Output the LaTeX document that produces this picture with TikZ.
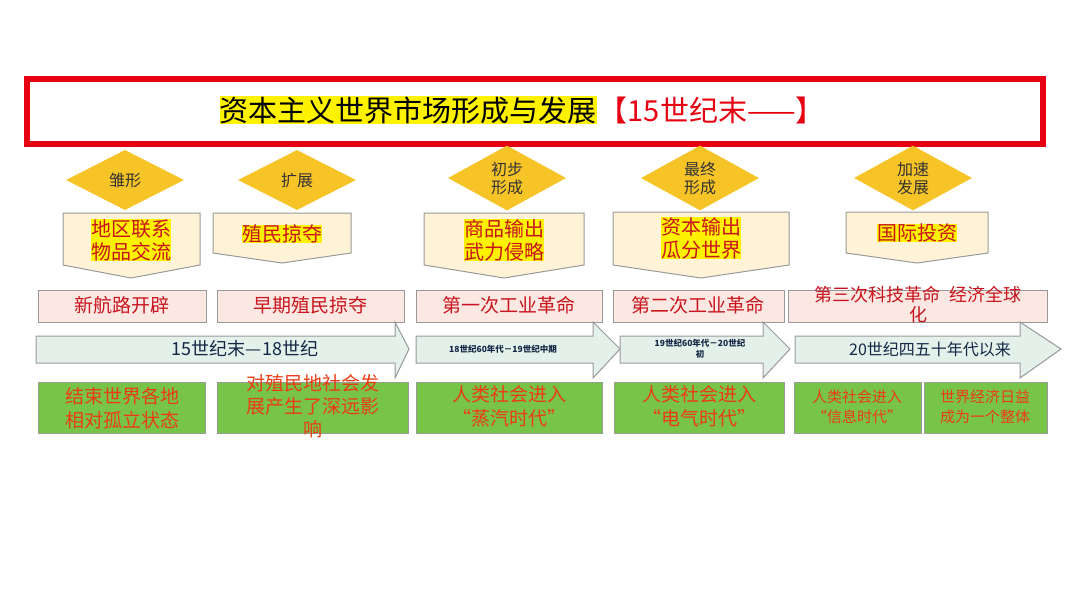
\documentclass[tikz,border=0pt]{standalone}
\usepackage{fontspec}
\setmainfont{Noto Sans CJK SC}
\usetikzlibrary{shapes.geometric, positioning}
\definecolor{titlered}{RGB}{230,0,18}
\definecolor{gold}{RGB}{247,196,40}
\definecolor{cream}{RGB}{255,243,215}
\definecolor{pinkfill}{RGB}{252,232,226}
\definecolor{arrowfill}{RGB}{228,240,234}
\definecolor{greenfill}{RGB}{120,196,72}
\definecolor{textred}{RGB}{200,20,30}
\definecolor{orangered}{RGB}{235,60,20}
\definecolor{navy}{RGB}{20,40,70}
\tikzset{
  diam/.style={diamond, fill=gold, minimum width=118pt, minimum height=60pt, inner sep=0pt, font=\fontsize{16}{18}\selectfont, align=center, text=black!80},
  hl/.style={fill=yellow, inner sep=0pt, text=textred, font=\fontsize{20}{23}\selectfont, align=center},
  pentline/.style={draw=gray!80, fill=cream, line width=1pt},
  pinkbox/.style={draw=gray!80, fill=pinkfill, line width=1pt},
  greenbox/.style={draw=gray!80, fill=greenfill, line width=1pt},
  arrowbody/.style={draw=gray!80, fill=arrowfill, line width=1pt},
  rowtext/.style={text=textred, font=\fontsize{19}{21}\selectfont, align=center},
  greentext/.style={text=orangered, font=\fontsize{19}{24}\selectfont, align=center},
  timetext/.style={text=navy, font=\fontsize{18}{20}\selectfont, align=center}
}
\begin{document}
\begin{tikzpicture}[x=1pt,y=-1pt]
\useasboundingbox (0,0) rectangle (1080,608);
\fill[white] (0,0) rectangle (1080,608);
% title
\draw[titlered, line width=6pt, fill=white] (27,79) rectangle (1043,144);
\node[hl, text=black, font=\fontsize{29}{31}\selectfont] (title) at (408,110) {资本主义世界市场形成与发展};
\node[text=titlered, font=\fontsize{29}{31}\selectfont, inner sep=0pt, right=2pt of title] (titleyear) {【15世纪末——】};
% stages
\node[diam] (d1) at (125,180) {雏形};
\node[diam] (d2) at (297,180) {扩展};
\node[diam] (d3) at (507,178) {初步\\形成};
\node[diam] (d4) at (700,178) {最终\\形成};
\node[diam] (d5) at (913,178) {加速\\发展};
% pentagons
\draw[pentline] (63,213) -- (200,213) -- (200,265) -- (131,278) -- (63,265) -- cycle;
\draw[pentline] (213,213) -- (351,213) -- (351,253) -- (282,263) -- (213,253) -- cycle;
\draw[pentline] (424,213) -- (584,213) -- (584,265) -- (504,278) -- (424,265) -- cycle;
\draw[pentline] (613,212) -- (789,212) -- (789,265) -- (701,278) -- (613,265) -- cycle;
\draw[pentline] (846,212) -- (988,212) -- (988,253) -- (917,263) -- (846,253) -- cycle;
\node[hl] (p1) at (131,240) {地区联系\\物品交流};
\node[hl] (p2) at (282,234) {殖民掠夺};
\node[hl] (p3) at (504,240) {商品输出\\武力侵略};
\node[hl] (p4) at (701,238) {资本输出\\瓜分世界};
\node[hl] (p5) at (917,233) {国际投资};
% events
\draw[pinkbox] (38,290) rectangle (206,322);
\draw[pinkbox] (217,290) rectangle (404,322);
\draw[pinkbox] (416,290) rectangle (602,322);
\draw[pinkbox] (613,290) rectangle (784,322);
\draw[pinkbox] (788,290) rectangle (1047,322);
\node[rowtext] (e1) at (122,305) {新航路开辟};
\node[rowtext] (e2) at (310,305) {早期殖民掠夺};
\node[rowtext] (e3) at (509,305) {第一次工业革命};
\node[rowtext] (e4) at (698,305) {第二次工业革命};
\node[rowtext, font=\fontsize{18}{20}\selectfont] (e5) at (918,305) {第三次科技革命\ \ 经济全球\\化};
% periods
\draw[arrowbody] (36,336) -- (395,336) -- (395,322) -- (409,349) -- (395,378) -- (395,363) -- (36,363) -- cycle;
\draw[arrowbody] (416,336) -- (593,336) -- (593,322) -- (620,349) -- (593,378) -- (593,363) -- (416,363) -- cycle;
\draw[arrowbody] (620,336) -- (763,336) -- (763,322) -- (790,349) -- (763,378) -- (763,363) -- (620,363) -- cycle;
\draw[arrowbody] (795,336) -- (1020,336) -- (1020,322) -- (1061,349) -- (1020,378) -- (1020,363) -- (795,363) -- cycle;
\node[timetext] (t1) at (245,349) {15世纪末—18世纪};
\node[timetext, font=\bfseries\fontsize{8.5}{10}\selectfont] (t2) at (503,349) {18世纪60年代－19世纪中期};
\node[timetext, font=\bfseries\fontsize{8.5}{11}\selectfont] (t3) at (700,349) {19世纪60年代－20世纪\\初};
\node[timetext, font=\fontsize{16}{19}\selectfont] (t4) at (930,349) {20世纪四五十年代以来};
% results
\draw[greenbox] (38,382) rectangle (205,433);
\draw[greenbox] (217,382) rectangle (408,433);
\draw[greenbox] (416,382) rectangle (602,433);
\draw[greenbox] (614,382) rectangle (784,433);
\draw[greenbox] (794,382) rectangle (921,433);
\draw[greenbox] (924,382) rectangle (1047,433);
\node[greentext] (r1) at (122,408) {结束世界各地\\相对孤立状态};
\node[greentext, font=\fontsize{19}{23}\selectfont] (r2) at (313,406) {对殖民地社会发\\展产生了深远影\\响};
\node[greentext] (r3) at (509,406) {人类社会进入\\“蒸汽时代”};
\node[greentext] (r4) at (699,406) {人类社会进入\\“电气时代”};
\node[greentext, font=\fontsize{15}{20}\selectfont] (r5) at (857,407) {人类社会进入\\“信息时代”};
\node[greentext, font=\fontsize{15}{20}\selectfont] (r6) at (985,407) {世界经济日益\\成为一个整体};
\end{tikzpicture}
\end{document}
